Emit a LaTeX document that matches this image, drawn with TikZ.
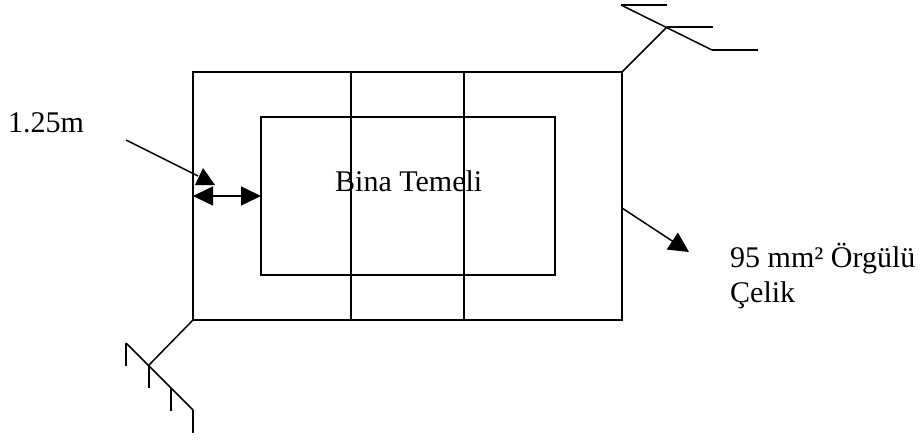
\documentclass[tikz,border=0pt]{standalone}
\usepackage{fontspec}
\setmainfont{Liberation Serif}
\usetikzlibrary{positioning,%
  arrows.meta,%
  calc
}
\tikzset{
  wire/.style={line width=1.5pt,black},
  bigarrow/.style={line width=1.5pt,black,-{Triangle[length=20pt,width=20pt]}},
  bothways/.style={line width=1.5pt,black,{Triangle[length=20pt,width=19pt]}-{Triangle[length=20pt,width=19pt]}},
  caption/.style={anchor=base west,inner sep=0pt,font=\fontsize{30}{35}\selectfont}
}
\begin{document}
\begin{tikzpicture}[x=1pt,y=-1pt]
            \useasboundingbox (0,0) rectangle (920,439);

            \coordinate (plotNW) at (193,72);
            \coordinate (plotNE) at (622,72);
            \coordinate (plotSW) at (193,320);
            \coordinate (plotSE) at (622,320);
            \coordinate (rodA) at (667,27);
            \coordinate (rodB) at (149,365);

            \draw[wire] (plotNW) rectangle (plotSE);
            \draw[wire] (261,117) rectangle (555,275);
            \foreach \x in {351,464}
                \draw[wire] (\x,72) -- (\x,320);

            % upper electrode
            \draw[wire] (plotNE) -- (rodA);
            \draw[wire] (621,5) -- (712,50);
            \foreach \x/\y in {621/5,667/27,712/50}
                \draw[wire] (\x,\y) -- (\x+46,\y);

            % lower electrode
            \draw[wire] (plotSW) -- (rodB);
            \draw[wire] (126,343) -- (193,410);
            \foreach \x/\y in {126/343,149/365,171/388,193/410}
                \draw[wire] (\x,\y) -- (\x,\y+23);

            % distance and conductor
            \coordinate (gapL) at (193,196);
            \coordinate (gapR) at (261,196);
            \draw[bothways] (gapL) -- (gapR);
            \coordinate (gapFrom) at (126,140);
            \coordinate (gapTo) at (198,176);
            \draw[wire] (gapFrom) -- (gapTo);
            \fill (203,168) -- (195,185) -- (215,185) -- cycle;
            \coordinate (wireFrom) at (622,208);
            \coordinate (wireTo) at (689,252);
            \draw[bigarrow] (wireFrom) -- (wireTo);

            \node[caption] (gaplabel) at (8,132) {1.25m};
            \node[caption] (basetext) at (335,191) {Bina Temeli};
            \node[caption,align=left] (wiretext) at (730,302) {95 mm² Örgülü\\Çelik};
        \end{tikzpicture}
\end{document}
